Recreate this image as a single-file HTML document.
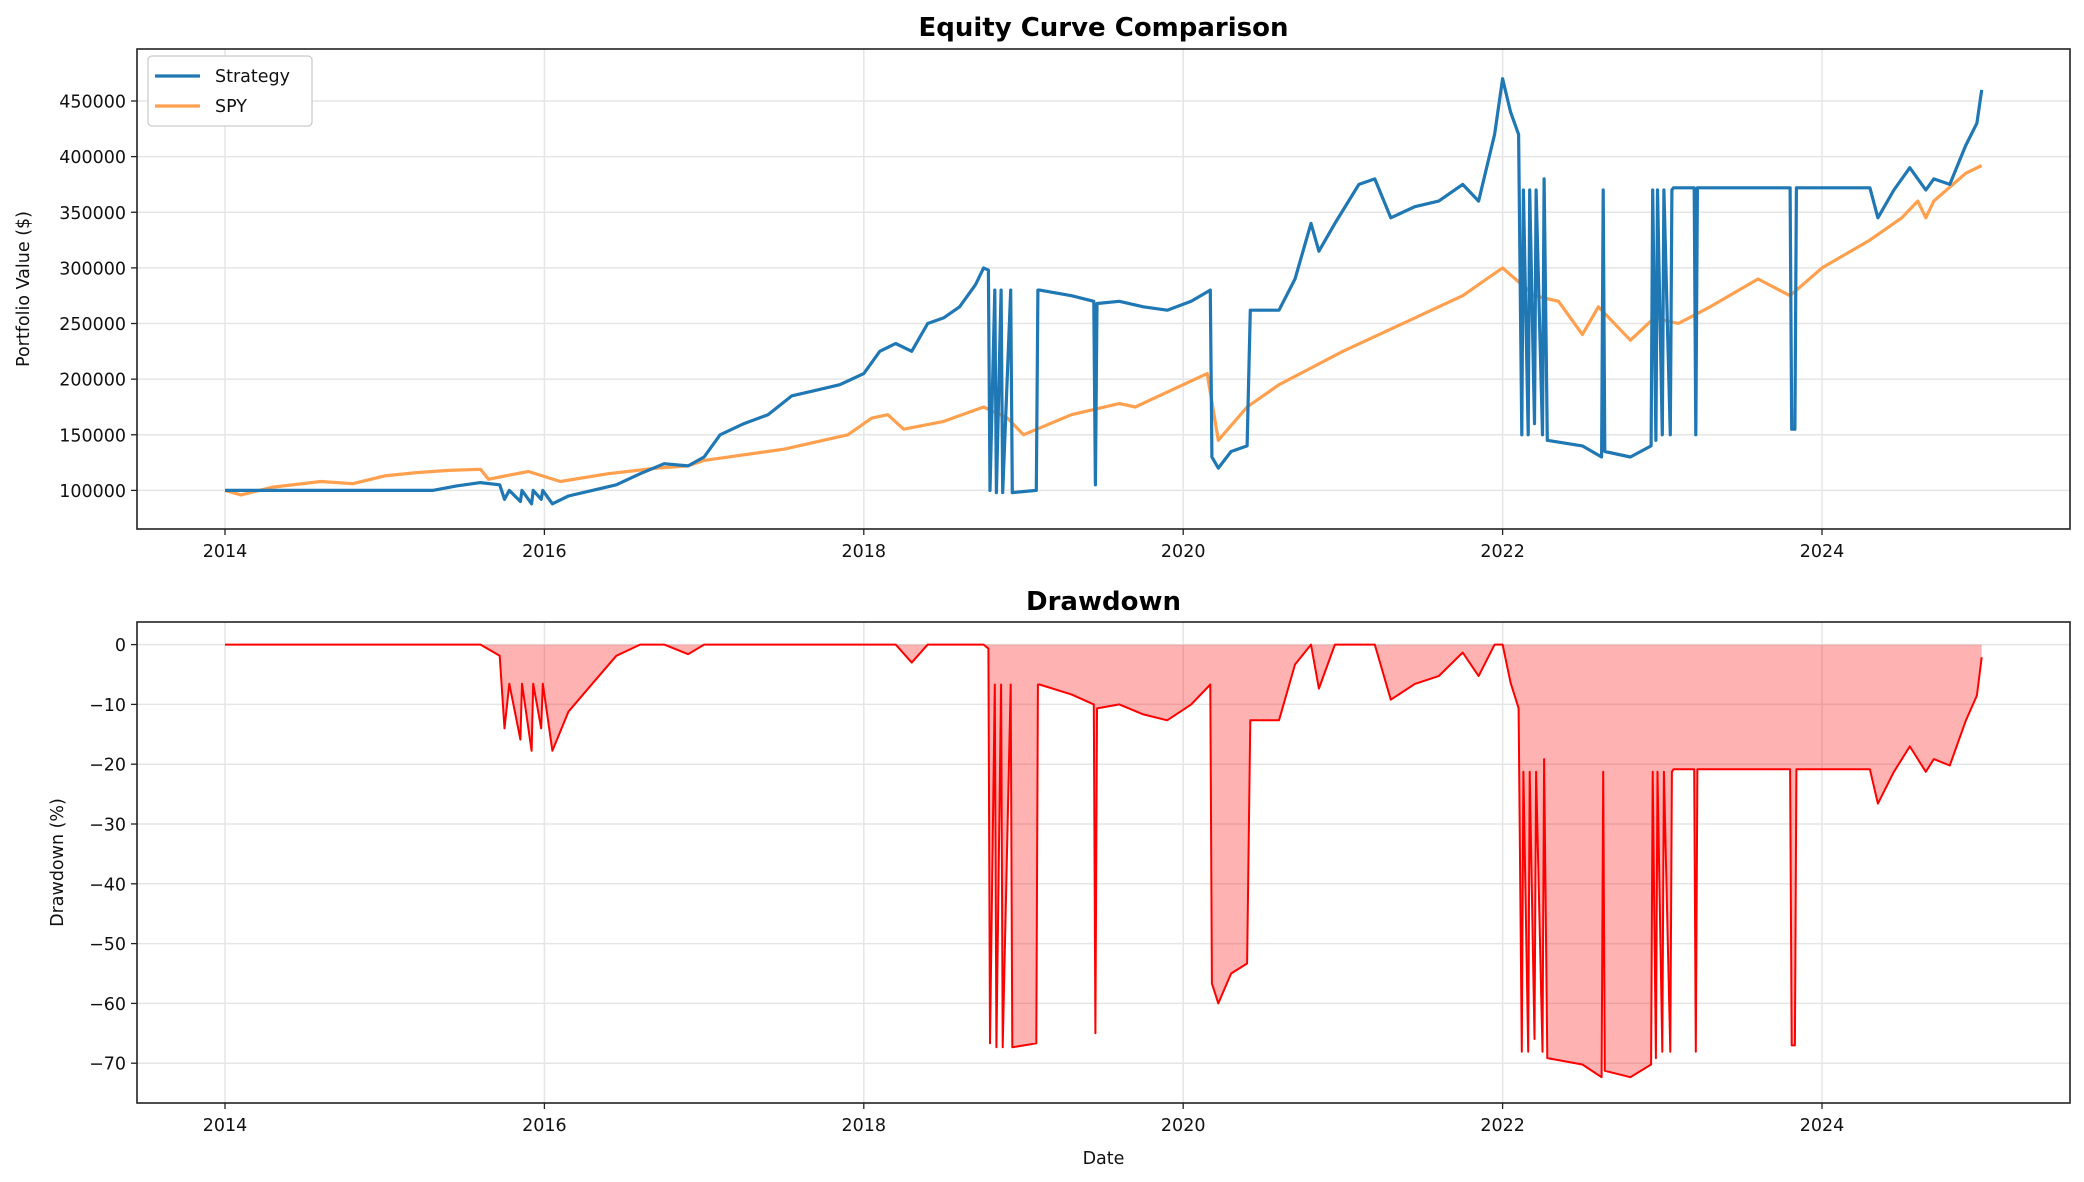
<!DOCTYPE html>
<html><head><meta charset="utf-8"><style>
body{margin:0;background:#fff}
svg{display:block;font-family:"DejaVu Sans","Liberation Sans",sans-serif}
</style></head><body>
<svg id="fig" width="2084" height="1182"></svg>
<script>
const stratDates=[2014,2015.3,2015.45,2015.6,2015.72,2015.75,2015.78,2015.85,2015.86,2015.92,2015.93,2015.98,2015.99,2016.05,2016.15,2016.3,2016.45,2016.6,2016.75,2016.9,2017.0,2017.1,2017.25,2017.4,2017.55,2017.7,2017.85,2018.0,2018.1,2018.2,2018.3,2018.4,2018.5,2018.6,2018.7,2018.75,2018.78,2018.79,2018.82,2018.83,2018.86,2018.87,2018.92,2018.93,2019.08,2019.09,2019.1,2019.3,2019.44,2019.45,2019.46,2019.6,2019.75,2019.9,2020.05,2020.17,2020.18,2020.22,2020.3,2020.4,2020.42,2020.6,2020.7,2020.8,2020.85,2020.95,2021.1,2021.2,2021.3,2021.45,2021.6,2021.75,2021.85,2021.95,2022.0,2022.05,2022.1,2022.12,2022.13,2022.16,2022.17,2022.2,2022.21,2022.25,2022.26,2022.28,2022.5,2022.62,2022.63,2022.64,2022.8,2022.93,2022.94,2022.96,2022.97,2023.0,2023.01,2023.05,2023.06,2023.07,2023.2,2023.21,2023.22,2023.8,2023.81,2023.83,2023.84,2024.3,2024.35,2024.45,2024.55,2024.65,2024.7,2024.8,2024.9,2024.97,2025.0];
const stratValues=[100000,100000,104000,107000,105000,92000,100000,90000,100000,88000,100000,92000,100000,88000,95000,100000,105000,115000,124000,122000,130000,150000,160000,168000,185000,190000,195000,205000,225000,232000,225000,250000,255000,265000,285000,300000,298000,100000,280000,98000,280000,98000,280000,98000,100000,280000,280000,275000,270000,105000,268000,270000,265000,262000,270000,280000,130000,120000,135000,140000,262000,262000,290000,340000,315000,340000,375000,380000,345000,355000,360000,375000,360000,420000,470000,440000,420000,150000,370000,150000,370000,160000,370000,150000,380000,145000,140000,130000,370000,135000,130000,140000,370000,145000,370000,150000,370000,150000,370000,372000,372000,150000,372000,372000,155000,155000,372000,372000,345000,370000,390000,370000,380000,375000,410000,430000,460000,450000];
const spyDates=[2014,2014.1,2014.3,2014.6,2014.8,2015.0,2015.2,2015.4,2015.6,2015.65,2015.72,2015.9,2016.1,2016.4,2016.7,2016.9,2017.0,2017.5,2017.9,2018.05,2018.15,2018.25,2018.5,2018.75,2018.9,2019.0,2019.3,2019.6,2019.7,2020.0,2020.15,2020.22,2020.4,2020.6,2020.8,2021.0,2021.3,2021.6,2021.75,2021.9,2022.0,2022.2,2022.35,2022.5,2022.6,2022.8,2022.95,2023.1,2023.3,2023.6,2023.8,2024.0,2024.3,2024.5,2024.6,2024.65,2024.7,2024.9,2025.0];
const spyValues=[100000,96000,103000,108000,106000,113000,116000,118000,119000,110000,112000,117000,108000,115000,120000,122000,127000,137000,150000,165000,168000,155000,162000,175000,165000,150000,168000,178000,175000,195000,205000,145000,175000,195000,210000,225000,245000,265000,275000,290000,300000,275000,270000,240000,265000,235000,255000,250000,265000,290000,275000,300000,325000,345000,360000,345000,360000,385000,392000];
const xTicks=[2014,2016,2018,2020,2022,2024];
const yTicksTop=[100000,150000,200000,250000,300000,350000,400000,450000];
const yTicksDD=[0,-10,-20,-30,-40,-50,-60,-70];

const NS="http://www.w3.org/2000/svg";
const svg=document.getElementById('fig');
function el(tag,attrs,parent){const e=document.createElementNS(NS,tag);for(const k in attrs)e.setAttribute(k,attrs[k]);(parent||svg).appendChild(e);return e;}
const L=137,R=2070;
const xs=y=>225+(y-2014)*159.7;
const T1=49,B1=529, ysTop=v=>490.4-(v-100000)*0.0011126;
const T2=622,B2=1103, ysDD=v=>644.6-v*5.98;
const FS=17.5;

function axes(T,B,ticksY,ys,fmt,name){
  const g=el('g',{});
  
  
  xTicks.forEach(t=>{el('line',{x1:xs(t),x2:xs(t),y1:T,y2:B,stroke:'#e5e5e5','stroke-width':1.5},g);
    el('line',{x1:xs(t),x2:xs(t),y1:B,y2:B+6,stroke:'#222','stroke-width':1.3},g);
    const tx=el('text',{x:xs(t),y:B+28,'font-size':FS,'text-anchor':'middle',fill:'#111'},g);tx.textContent=t;
    });
  ticksY.forEach(t=>{const y=ys(t);el('line',{x1:L,x2:R,y1:y,y2:y,stroke:'#e5e5e5','stroke-width':1.5},g);
    el('line',{x1:L-6,x2:L,y1:y,y2:y,stroke:'#222','stroke-width':1.3},g);
    const tx=el('text',{x:L-11,y:y+6.5,'font-size':FS,'text-anchor':'end',fill:'#111'},g);tx.textContent=fmt(t);
    });
  return g;
}
function path(d,ys,vals){return d.map((x,i)=>(i?'L':'M')+xs(x).toFixed(1)+','+ys(vals[i]).toFixed(1)).join('');}

axes(T1,B1,yTicksTop,ysTop,v=>String(v),'equity-axes');
const cp1=el('clipPath',{id:'c1'});el('rect',{x:L,y:T1,width:R-L,height:B1-T1},cp1);
const sp=el('path',{d:path(spyDates,ysTop,spyValues),fill:'none',stroke:'#ffa04f','stroke-width':3.2,'stroke-linejoin':'round','clip-path':'url(#c1)'});

const st=el('path',{d:path(stratDates,ysTop,stratValues),fill:'none',stroke:'#1f77b4','stroke-width':3.2,'stroke-linejoin':'round','clip-path':'url(#c1)'});

el('rect',{x:L,y:T1,width:R-L,height:B1-T1,fill:'none',stroke:'#222','stroke-width':1.6});
let t=el('text',{x:(L+R)/2,y:36,'font-size':26,'font-weight':'bold','text-anchor':'middle',fill:'#000'});t.textContent='Equity Curve Comparison';

t=el('text',{x:0,y:0,'font-size':FS,'text-anchor':'middle',fill:'#111',transform:'translate(29,'+((T1+B1)/2)+') rotate(-90)'});t.textContent='Portfolio Value ($)';

const lg=el('g',{});

el('rect',{x:148,y:56,width:164,height:70,rx:4,fill:'#fff',stroke:'#ccc','stroke-width':1.3},lg);
el('line',{x1:155,x2:200,y1:76,y2:76,stroke:'#1f77b4','stroke-width':3.2},lg);
el('line',{x1:155,x2:200,y1:106,y2:106,stroke:'#ffa04f','stroke-width':3.2},lg);
t=el('text',{x:215,y:82,'font-size':FS,fill:'#111'},lg);t.textContent='Strategy';

t=el('text',{x:215,y:112,'font-size':FS,fill:'#111'},lg);t.textContent='SPY';


let peak=-Infinity;const ddValues=stratValues.map(v=>{peak=Math.max(peak,v);return (v/peak-1)*100;});
axes(T2,B2,yTicksDD,ysDD,v=>v<0?'\u2212'+(-v):String(v),'drawdown-axes');
let fd=path(stratDates,ysDD,ddValues)+'L'+xs(stratDates[stratDates.length-1]).toFixed(1)+','+ysDD(0)+'L'+xs(stratDates[0])+','+ysDD(0)+'Z';
const fa=el('path',{d:fd,fill:'rgba(255,0,0,0.3)',stroke:'none'});

const dl=el('path',{d:path(stratDates,ysDD,ddValues),fill:'none',stroke:'#ff0000','stroke-width':2,'stroke-linejoin':'round'});

el('rect',{x:L,y:T2,width:R-L,height:B2-T2,fill:'none',stroke:'#222','stroke-width':1.6});
t=el('text',{x:(L+R)/2,y:610,'font-size':26,'font-weight':'bold','text-anchor':'middle',fill:'#000'});t.textContent='Drawdown';

t=el('text',{x:0,y:0,'font-size':FS,'text-anchor':'middle',fill:'#111',transform:'translate(63,'+((T2+B2)/2)+') rotate(-90)'});t.textContent='Drawdown (%)';

t=el('text',{x:(L+R)/2,y:1164,'font-size':FS,'text-anchor':'middle',fill:'#111'});t.textContent='Date';

</script>
</body></html>
